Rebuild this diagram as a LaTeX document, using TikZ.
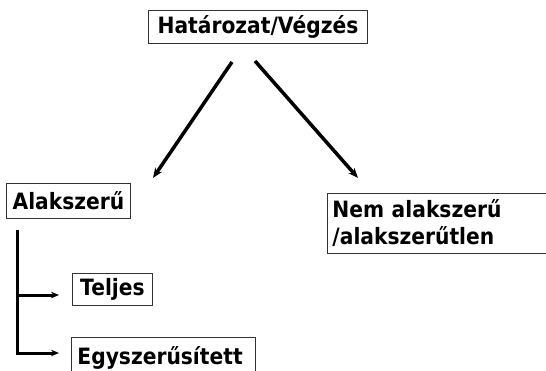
\documentclass[tikz,border=0pt]{standalone}
\usepackage{fontspec}
\setmainfont{DejaVu Sans}[FakeStretch=0.9]
\usetikzlibrary{arrows.meta}
\begin{document}
\begin{tikzpicture}[x=1pt,y=-1pt,
  box/.style={draw=black!80,line width=0.9pt,anchor=north west,inner sep=0pt,font=\bfseries\fontsize{22.5}{27}\selectfont},
  arr/.style={line width=3.5pt,-{Stealth[length=10pt,width=8pt]}},
  brr/.style={line width=3pt,-{Stealth[length=8pt,width=6.5pt]}}]
\useasboundingbox (0,0) rectangle (546,370);
\node[box,minimum width=219pt,minimum height=33pt] (top) at (148,10) {Határozat/Végzés};
\node[box,minimum width=124pt,minimum height=35pt] (alak) at (6,183) {Alakszerű};
\node[box,minimum width=225pt,minimum height=60pt,text width=215pt,inner xsep=5pt,align=left] (nem) at (327,193) {\raisebox{-3pt}{Nem alakszerű}\\\raisebox{-3pt}{/alakszerűtlen}};
\node[box,minimum width=80pt,minimum height=32pt] (telj) at (72,273) {Teljes};
\node[box,minimum width=184pt,minimum height=40pt,text width=172pt,inner xsep=6pt,align=left] (egy) at (71,337) {\raisebox{-4pt}{Egyszerűsített}};
\coordinate (a1) at (232,62);
\coordinate (a2) at (153,178);
\coordinate (b1) at (255,61);
\coordinate (b2) at (358,178);
\coordinate (v1) at (17,230);
\coordinate (v2) at (17,353);
\coordinate (t1) at (17,295);
\coordinate (te) at (59,295);
\coordinate (ee) at (59,353);
\draw[arr] (a1) -- (a2);
\draw[arr] (b1) -- (b2);
\draw[line width=3pt] (v1) -- (v2);
\draw[brr] (t1) -- (te);
\draw[brr] ([xshift=-1.5pt]v2) -- (ee);
\end{tikzpicture}
\end{document}
